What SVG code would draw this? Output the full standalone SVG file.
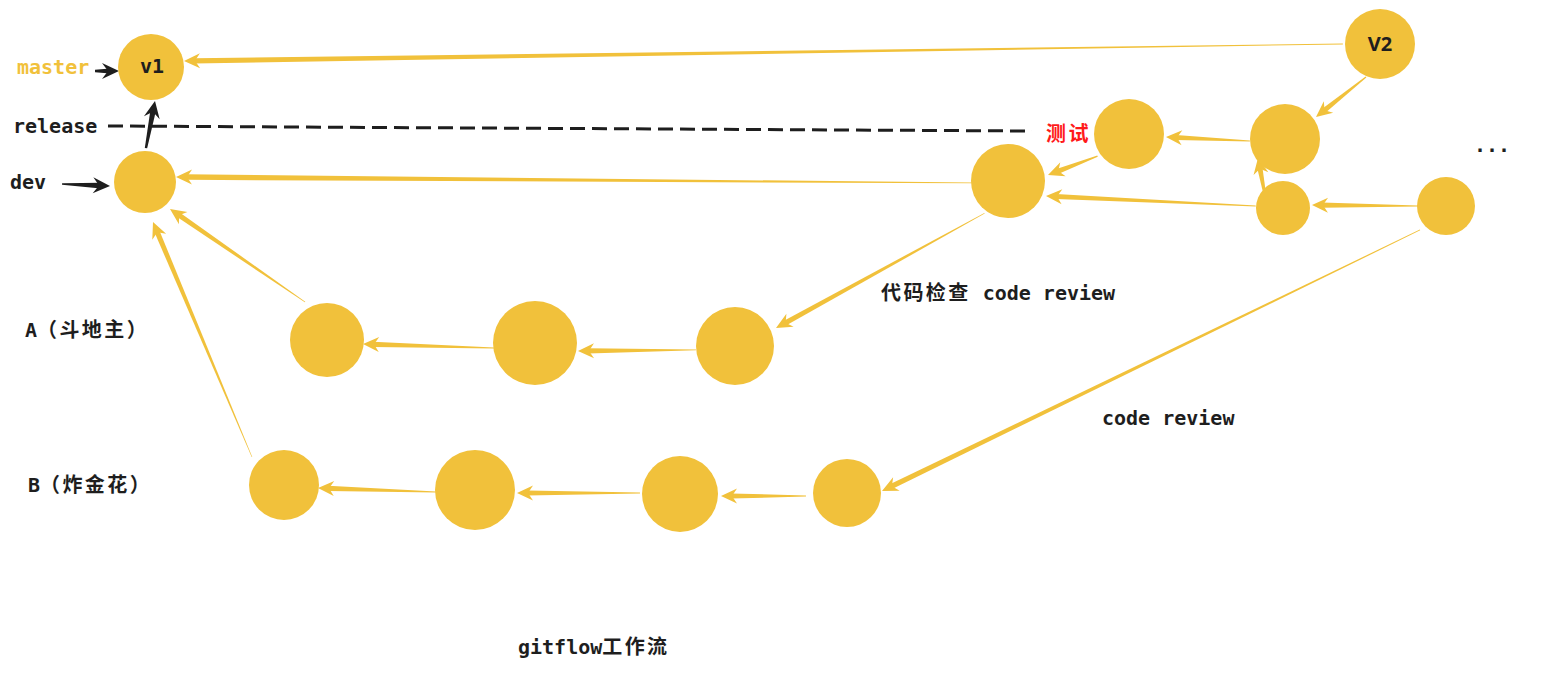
<svg xmlns="http://www.w3.org/2000/svg" xmlns:xlink="http://www.w3.org/1999/xlink" width="1551" height="674" viewBox="0 0 1551 674">
<style>
.n{fill:#f1c13b}
.t{font-family:"DejaVu Sans Mono","Liberation Mono","Noto Sans CJK SC",monospace;font-weight:bold;font-size:20px;fill:#1e1e1e}
.c{letter-spacing:2.4px}
.y polygon,.y use{fill:#f1c13b}
.k polygon,.k use{fill:#1e1e1e}
</style>
<defs>
<polygon id="ah" points="0,0 -16,-7.5 -11,0 -16,7.5"/>
<polygon id="bh" points="0,0 -17,-8 -11,0 -17,8"/>
</defs>
<rect width="1551" height="674" fill="#ffffff"/>

<g id="connectors">
<line x1="108" y1="126" x2="1032" y2="131" stroke="#1e1e1e" stroke-width="3" stroke-dasharray="15 7"/>
<g class="y">
<g transform="translate(184,61) rotate(179.16)"><polygon points="-1159,-0.4 -1159,0.4 -10,2.6 -10,-2.6"/><use href="#ah"/></g>
<g transform="translate(1316,117) rotate(141.34)"><polygon points="-64,-0.6 -64,0.6 -10,2.6 -10,-2.6"/><use href="#ah"/></g>
<g transform="translate(1166,137) rotate(-177.27)"><polygon points="-84,-0.5 -84,0.5 -10,2.6 -10,-2.6"/><use href="#ah"/></g>
<g transform="translate(1048,175) rotate(159.2)"><polygon points="-53,-0.6 -53,0.6 -10,2.6 -10,-2.6"/><use href="#ah"/></g>
<g transform="translate(1258,158) rotate(-100.6)"><polygon points="-33,-1.5 -33,1.5 -10,2.6 -10,-2.6"/><use href="#ah"/></g>
<g transform="translate(1046,196) rotate(-177.27)"><polygon points="-210,-0.4 -210,0.4 -10,2.6 -10,-2.6"/><use href="#ah"/></g>
<g transform="translate(1312,205) rotate(-179.46)"><polygon points="-106,-0.4 -106,0.4 -10,2.6 -10,-2.6"/><use href="#ah"/></g>
<g transform="translate(882,491) rotate(154.12)"><polygon points="-598,-0.4 -598,0.4 -10,2.6 -10,-2.6"/><use href="#ah"/></g>
<g transform="translate(176,177) rotate(-179.57)"><polygon points="-796,-0.4 -796,0.4 -10,2.8 -10,-2.8"/><use href="#ah"/></g>
<g transform="translate(776,328) rotate(151.18)"><polygon points="-238,-0.4 -238,0.4 -10,2.6 -10,-2.6"/><use href="#ah"/></g>
<g transform="translate(578,351) rotate(179.5)"><polygon points="-118,-0.4 -118,0.4 -10,2.6 -10,-2.6"/><use href="#ah"/></g>
<g transform="translate(363,344) rotate(-178.25)"><polygon points="-131,-0.4 -131,0.4 -10,2.6 -10,-2.6"/><use href="#ah"/></g>
<g transform="translate(170,209) rotate(-145.44)"><polygon points="-164,-0.4 -164,0.4 -10,2.6 -10,-2.6"/><use href="#ah"/></g>
<g transform="translate(721,496) rotate(180)"><polygon points="-85,-0.4 -85,0.4 -10,2.6 -10,-2.6"/><use href="#ah"/></g>
<g transform="translate(517,493) rotate(180)"><polygon points="-123,-0.4 -123,0.4 -10,2.6 -10,-2.6"/><use href="#ah"/></g>
<g transform="translate(318,488) rotate(-178.06)"><polygon points="-118,-0.4 -118,0.4 -10,2.6 -10,-2.6"/><use href="#ah"/></g>
<g transform="translate(153,222) rotate(-112.84)"><polygon points="-255,-0.3 -255,0.3 -10,2.6 -10,-2.6"/><use href="#ah"/></g>
</g>
<g class="k">
<g transform="translate(119,71) rotate(0)"><polygon points="-24,-1.2 -24,1.2 -9,2.6 -9,-2.6"/><use href="#bh"/></g>
<g transform="translate(110,186) rotate(2.39)"><polygon points="-48,-0.8 -48,0.8 -9,2.8 -9,-2.8"/><use href="#bh"/></g>
<g transform="translate(155,101) rotate(-79.16)"><polygon points="-48,-1.2 -48,1.2 -9,2.8 -9,-2.8"/><use href="#bh"/></g>
</g>
</g>

<g id="node-v1"><circle class="n" cx="151" cy="67" r="33"/><text class="t" x="152" y="73" text-anchor="middle">v1</text></g>
<g id="node-v2"><circle class="n" cx="1380" cy="44" r="35"/><text class="t" x="1380" y="51" text-anchor="middle" style="font-family:'Open Sans','DejaVu Sans',sans-serif">V2</text></g>
<g id="node-dev"><circle class="n" cx="145" cy="182" r="31"/></g>
<g id="node-test"><circle class="n" cx="1129" cy="134" r="35"/></g>
<g id="node-r1"><circle class="n" cx="1285" cy="139" r="35"/></g>
<g id="node-d1"><circle class="n" cx="1008" cy="181" r="37"/></g>
<g id="node-r2"><circle class="n" cx="1283" cy="208" r="27"/></g>
<g id="node-r3"><circle class="n" cx="1446" cy="206" r="29"/></g>
<g id="node-a1"><circle class="n" cx="327" cy="340" r="37"/></g>
<g id="node-a2"><circle class="n" cx="535" cy="343" r="42"/></g>
<g id="node-a3"><circle class="n" cx="735" cy="346" r="39"/></g>
<g id="node-b1"><circle class="n" cx="284" cy="485" r="35"/></g>
<g id="node-b2"><circle class="n" cx="475" cy="490" r="40"/></g>
<g id="node-b3"><circle class="n" cx="680" cy="494" r="38"/></g>
<g id="node-b4"><circle class="n" cx="847" cy="493" r="34"/></g>

<g id="labels">
<text class="t" x="17" y="74" style="fill:#f1c13b">master</text>
<text class="t" x="13" y="133">release</text>
<text class="t" x="10" y="189">dev</text>
<text class="t" x="25" y="337">A<tspan class="c">（斗地主）</tspan></text>
<text class="t" x="28" y="492">B<tspan class="c">（炸金花）</tspan></text>
<text class="t" x="881" y="300"><tspan class="c">代码检查</tspan> code review</text>
<text class="t" x="1102" y="425">code review</text>
<text class="t" x="1046" y="141" style="fill:#ff1a1a"><tspan class="c">测试</tspan></text>
<text class="t" x="1474" y="152">...</text>
<text class="t" x="518" y="654">gitflow<tspan class="c">工作流</tspan></text>
</g>
</svg>
